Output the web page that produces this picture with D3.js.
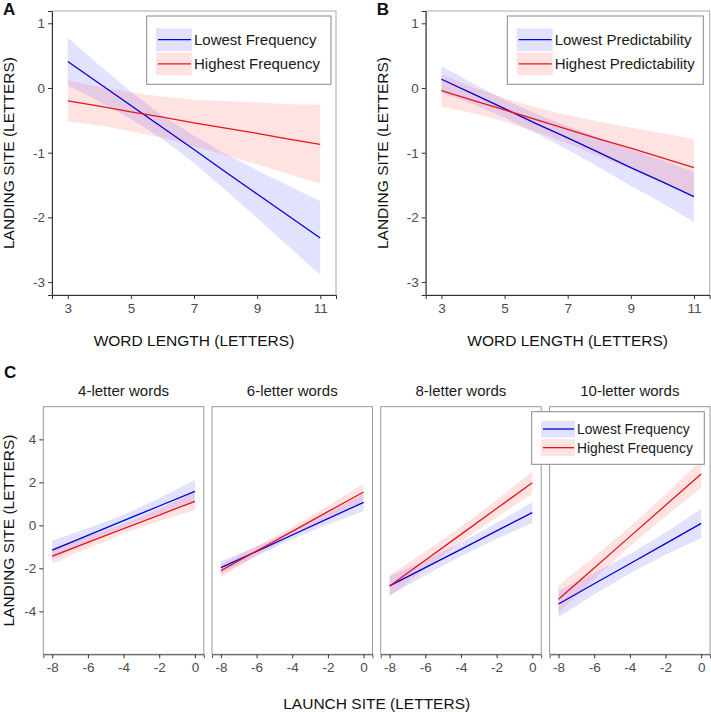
<!DOCTYPE html>
<html>
<head>
<meta charset="utf-8">
<script src="https://cdn.jsdelivr.net/npm/d3@7/dist/d3.min.js"></script>
<style>
  body { margin: 0; background: #fff; }
  svg text { font-family: "Liberation Sans", Arial, sans-serif; }
</style>
</head>
<body>
<svg id="fig" width="711" height="712"></svg>
<script>
// ---- data ----
// panels A and B: word length on x
const wordLength = [3, 4, 5, 6, 7, 8, 9, 10, 11];
const lengthTicks = [3, 5, 7, 9, 11];
const siteTicksAB = [1, 0, -1, -2, -3];

// A: frequency
const freqLowFit  = [0.41, 0.07, -0.27, -0.61, -0.95, -1.30, -1.64, -1.98, -2.32];
const freqLowLo   = [0.04, -0.21, -0.48, -0.79, -1.16, -1.58, -2.01, -2.45, -2.89];
const freqLowHi   = [0.78, 0.35, -0.06, -0.43, -0.74, -1.02, -1.27, -1.51, -1.75];
const freqHighFit = [-0.20, -0.28, -0.37, -0.45, -0.54, -0.62, -0.70, -0.79, -0.87];
const freqHighLo  = [-0.52, -0.58, -0.67, -0.77, -0.90, -1.04, -1.18, -1.33, -1.48];
const freqHighHi  = [0.12, 0.02, -0.07, -0.13, -0.18, -0.20, -0.22, -0.25, -0.26];

// B: predictability
const predLowFit  = [0.135, -0.09, -0.32, -0.55, -0.77, -1.00, -1.23, -1.45, -1.68];
const predLowLo   = [-0.065, -0.25, -0.46, -0.70, -0.95, -1.23, -1.51, -1.78, -2.07];
const predLowHi   = [0.335, 0.07, -0.18, -0.40, -0.59, -0.77, -0.95, -1.12, -1.29];
const predHighFit = [-0.04, -0.19, -0.34, -0.49, -0.64, -0.79, -0.93, -1.08, -1.23];
const predHighLo  = [-0.29, -0.39, -0.52, -0.68, -0.86, -1.06, -1.25, -1.46, -1.67];
const predHighHi  = [0.21, 0.01, -0.16, -0.30, -0.42, -0.52, -0.61, -0.70, -0.79];

// C: launch site on x, one row per facet
const launchSite = [-8, -6, -4, -2, 0];
const launchTicks = [-8, -6, -4, -2, 0];
const siteTicksC = [4, 2, 0, -2, -4];
const facetNames = ["4-letter words", "6-letter words", "8-letter words", "10-letter words"];
const cLowFit = [
  [-1.15, -0.47, 0.215, 0.90, 1.58],
  [-1.97, -1.21, -0.45, 0.31, 1.07],
  [-2.82, -1.97, -1.115, -0.26, 0.59],
  [-3.66, -2.72, -1.785, -0.85, 0.09]
];
const cLowLo = [
  [-1.59, -0.81, -0.065, 0.54, 1.05],
  [-2.27, -1.43, -0.65, 0.04, 0.67],
  [-3.27, -2.32, -1.435, -0.63, 0.11],
  [-4.28, -3.22, -2.235, -1.37, -0.59]
];
const cLowHi = [
  [-0.71, -0.13, 0.495, 1.26, 2.11],
  [-1.67, -0.99, -0.25, 0.58, 1.47],
  [-2.37, -1.62, -0.795, 0.11, 1.07],
  [-3.04, -2.22, -1.335, -0.33, 0.77]
];
const cHighFit = [
  [-1.43, -0.79, -0.155, 0.48, 1.12],
  [-2.11, -1.195, -0.28, 0.635, 1.55],
  [-2.82, -1.62, -0.42, 0.78, 1.98],
  [-3.44, -1.98, -0.525, 0.93, 2.39]
];
const cHighLo = [
  [-1.80, -1.07, -0.375, 0.20, 0.70],
  [-2.42, -1.415, -0.48, 0.365, 1.15],
  [-3.32, -2.02, -0.78, 0.38, 1.46],
  [-4.09, -2.50, -0.985, 0.41, 1.74]
];
const cHighHi = [
  [-1.06, -0.51, 0.065, 0.76, 1.54],
  [-1.80, -0.975, -0.08, 0.905, 1.95],
  [-2.32, -1.22, -0.06, 1.18, 2.50],
  [-2.79, -1.46, -0.065, 1.45, 3.04]
];

const blue = "#0000d8", red = "#e8141c";
const blueFill = "rgba(60,60,255,0.15)", redFill = "rgba(255,60,60,0.15)";
const plainNum = d => String(d);   // "-1" with a hyphen, no decimals

const svg = d3.select("#fig");

function series(xs, fit, lo, hi) {
  return xs.map((x, i) => ({ x: x, fit: fit[i], lo: lo[i], hi: hi[i] }));
}

// draws ribbons + fitted lines for one panel
function drawFits(g, x, y, groups) {
  const area = d3.area().x(d => x(d.x)).y0(d => y(d.lo)).y1(d => y(d.hi));
  const line = d3.line().x(d => x(d.x)).y(d => y(d.fit));
  groups.forEach(s => {
    g.append("path").datum(s.data).attr("fill", s.fill).attr("d", area);
  });
  groups.forEach(s => {
    g.append("path").datum(s.data).attr("fill", "none")
      .attr("stroke", s.color).attr("stroke-width", 1.3).attr("d", line);
  });
}

function styleAxis(a, domainColor) {
  if (domainColor) a.select(".domain").attr("stroke", domainColor);
  else a.select(".domain").remove();
  a.selectAll(".tick line").attr("stroke", "#333");
  a.selectAll(".tick text").attr("fill", "#4d4d4d").style("font-size", "13.5px");
}

function legend(left, top, right, bottom, labels, fontSize, keyX, keyW, rows) {
  const g = svg.append("g");
  g.append("rect").attr("x", left).attr("y", top)
    .attr("width", right - left).attr("height", bottom - top)
    .attr("fill", "#fff").attr("stroke", "#888").attr("stroke-width", 1);
  const cols = [[blue, blueFill], [red, redFill]];
  rows.forEach((r, i) => {
    g.append("rect").attr("x", keyX).attr("y", r.y0).attr("width", keyW).attr("height", r.y1 - r.y0)
      .attr("fill", cols[i][1]);
    const mid = (r.y0 + r.y1) / 2;
    g.append("line").attr("x1", keyX + 2).attr("x2", keyX + keyW - 1).attr("y1", mid).attr("y2", mid)
      .attr("stroke", cols[i][0]).attr("stroke-width", 1.3);
    g.append("text").attr("x", keyX + keyW + 2).attr("y", mid).attr("dy", "0.36em")
      .style("font-size", fontSize + "px").attr("fill", "#1a1a1a").text(labels[i]);
  });
}

// ---- panels A and B ----
function panelAB(left, label, groups, legendLabels, legBox) {
  const right = left + 284, top = 11, bottom = 295;
  const x = d3.scaleLinear().domain([2.5, 11.5]).range([left, right]);
  const y = d3.scaleLinear().domain([-3.2, 1.19]).range([bottom, top]);
  const g = svg.append("g");

  g.append("rect").attr("x", left).attr("y", top).attr("width", right - left).attr("height", bottom - top)
    .attr("fill", "#fff").attr("stroke", "#aaa").attr("stroke-width", 1);

  drawFits(g, x, y, groups);

  const yAxis = g.append("g").attr("transform", `translate(${left},0)`)
    .call(d3.axisLeft(y).tickValues(siteTicksAB).tickFormat(plainNum).tickSize(4).tickPadding(3));
  const xAxis = g.append("g").attr("transform", `translate(0,${bottom})`)
    .call(d3.axisBottom(x).tickValues(lengthTicks).tickFormat(plainNum).tickSize(4).tickPadding(4));
  styleAxis(xAxis, "#333");
  styleAxis(yAxis, "#333");

  g.append("text").attr("x", (left + right) / 2).attr("y", 346).attr("text-anchor", "middle")
    .style("font-size", "15.5px").attr("fill", "#111").text("WORD LENGTH (LETTERS)");
  g.append("text").attr("transform", `translate(${left - 38},${(top + bottom) / 2}) rotate(-90)`)
    .attr("text-anchor", "middle").style("font-size", "15.5px").attr("fill", "#111")
    .text("LANDING SITE (LETTERS)");
  g.append("text").attr("x", left - 49).attr("y", 15).style("font-size", "17px")
    .style("font-weight", "bold").attr("fill", "#111").text(label);

  legend(legBox[0], 16, legBox[1], 84.3, legendLabels, 15, legBox[2], 36,
    [{ y0: 28.3, y1: 51 }, { y0: 52.5, y1: 75.3 }]);
}

panelAB(52, "A", [
  { data: series(wordLength, freqLowFit, freqLowLo, freqLowHi), color: blue, fill: blueFill },
  { data: series(wordLength, freqHighFit, freqHighLo, freqHighHi), color: red, fill: redFill }
], ["Lowest Frequency", "Highest Frequency"], [146.7, 331, 156]);

panelAB(425.7, "B", [
  { data: series(wordLength, predLowFit, predLowLo, predLowHi), color: blue, fill: blueFill },
  { data: series(wordLength, predHighFit, predHighLo, predHighHi), color: red, fill: redFill }
], ["Lowest Predictability", "Highest Predictability"], [507.3, 703.3, 516.7]);

// ---- panel C: facets ----
const facetLefts = [43.3, 212, 380.7, 549.6];
const facetW = 160.5, cTop = 406.7, cBottom = 654.3;
const yC = d3.scaleLinear().domain([-6, 5.52]).range([cBottom, cTop]);

facetNames.forEach((name, f) => {
  const left = facetLefts[f], right = left + facetW;
  const x = d3.scaleLinear().domain([-8.5, 0.5]).range([left, right]);
  const g = svg.append("g");
  g.append("rect").attr("x", left).attr("y", cTop).attr("width", facetW).attr("height", cBottom - cTop)
    .attr("fill", "#fff").attr("stroke", "#999").attr("stroke-width", 1);

  drawFits(g, x, yC, [
    { data: series(launchSite, cLowFit[f], cLowLo[f], cLowHi[f]), color: blue, fill: blueFill },
    { data: series(launchSite, cHighFit[f], cHighLo[f], cHighHi[f]), color: red, fill: redFill }
  ]);

  const xAxis = g.append("g").attr("transform", `translate(0,${cBottom})`)
    .call(d3.axisBottom(x).tickValues(launchTicks).tickFormat(plainNum).tickSize(4).tickPadding(4));
  styleAxis(xAxis, "#555");

  if (f === 0) {
    const yAxis = g.append("g").attr("transform", `translate(${left},0)`)
      .call(d3.axisLeft(yC).tickValues(siteTicksC).tickFormat(plainNum).tickSize(4).tickPadding(3));
    styleAxis(yAxis, null);
  }

  g.append("text").attr("x", (left + right) / 2).attr("y", 396).attr("text-anchor", "middle")
    .style("font-size", "15px").attr("fill", "#1a1a1a").text(name);
});

svg.append("text").attr("x", (facetLefts[0] + facetLefts[3] + facetW) / 2).attr("y", 709)
  .attr("text-anchor", "middle").style("font-size", "15.5px").attr("fill", "#111")
  .text("LAUNCH SITE (LETTERS)");
svg.append("text").attr("transform", `translate(14,${(cTop + cBottom) / 2}) rotate(-90)`)
  .attr("text-anchor", "middle").style("font-size", "15.5px").attr("fill", "#111")
  .text("LANDING SITE (LETTERS)");
svg.append("text").attr("x", 4).attr("y", 378).style("font-size", "17px")
  .style("font-weight", "bold").attr("fill", "#111").text("C");

legend(531.7, 411.7, 704.3, 464.3, ["Lowest Frequency", "Highest Frequency"], 13.8, 541, 34,
  [{ y0: 420.7, y1: 437.3 }, { y0: 439.3, y1: 456 }]);
</script>
</body>
</html>
